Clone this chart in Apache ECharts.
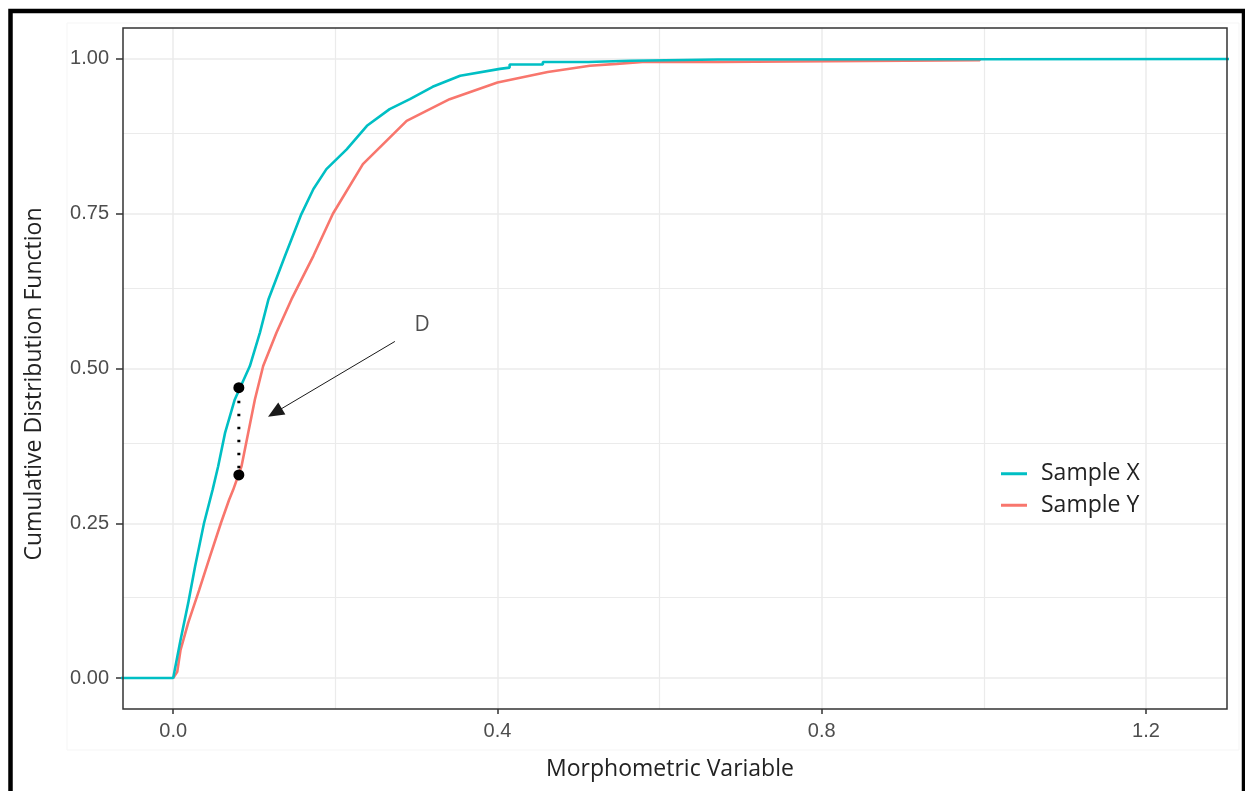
<!DOCTYPE html>
<html><head><meta charset="utf-8">
<script src="https://cdn.jsdelivr.net/npm/echarts@6/dist/echarts.min.js"></script>
<style>html,body{margin:0;padding:0;background:#fff}#c{width:1245px;height:791px}</style>
</head><body><div id="c"></div>
<script>
// ---- data ----
const sampleXx   = [-0.1, 0, 0.009, 0.0185, 0.027, 0.038, 0.0486, 0.0555, 0.064, 0.076, 0.0946, 0.107, 0.1176, 0.138, 0.158, 0.173, 0.189, 0.214, 0.239, 0.267, 0.292, 0.32, 0.354, 0.403, 0.415, 0.415, 0.456, 0.456, 0.512, 0.512, 0.564, 0.564, 0.672, 0.672, 1.4];
const sampleXcdf = [0, 0, 0.061, 0.121, 0.18, 0.25, 0.304, 0.342, 0.396, 0.45, 0.504, 0.558, 0.612, 0.682, 0.749, 0.79, 0.822, 0.854, 0.892, 0.919, 0.935, 0.955, 0.973, 0.984, 0.986, 0.991, 0.991, 0.995, 0.995, 0.997, 0.997, 0.999, 0.999, 1.0, 1.0];
const sampleYx   = [0, 0.005, 0.009, 0.0185, 0.032, 0.0453, 0.0588, 0.069, 0.074, 0.0843, 0.0925, 0.1008, 0.111, 0.1275, 0.146, 0.173, 0.197, 0.234, 0.288, 0.341, 0.40, 0.462, 0.514, 0.547, 0.579, 0.672, 0.672, 0.995, 0.995];
const sampleYcdf = [0, 0.01, 0.045, 0.089, 0.142, 0.196, 0.25, 0.288, 0.304, 0.342, 0.396, 0.45, 0.504, 0.558, 0.612, 0.682, 0.75, 0.83, 0.90, 0.935, 0.962, 0.979, 0.989, 0.992, 0.995, 0.995, 0.998, 0.998, 1.0];
const seriesNames = ['Sample X', 'Sample Y'];
const xDataRange = [0, 1.238];
const yDataRange = [0, 1];
const xTicks = [0, 0.4, 0.8, 1.2];
const xMinorGrid = [0.2, 0.6, 1.0];
const yTicks = [0, 0.25, 0.5, 0.75, 1];
const yMinorGrid = [0.125, 0.375, 0.625, 0.875];
const dMarkX = [0.081, 0.081];
const dMarkY = [0.469, 0.328];
const arrowFrom = [0.2735, 0.5437];
const arrowTo = [0.1255, 0.4288];
const dLabelPos = [0.307, 0.5696];
const dLabelText = 'D';

// ggplot-like 5% expansion
const ex = (r) => { const d = (r[1] - r[0]) * 0.05; return [r[0] - d, r[1] + d]; };
const xLim = ex(xDataRange), yLim = ex(yDataRange);
const zip = (a, b) => a.map((v, i) => [v, b[i]]);

const TITLE_FONT = '"Open Sans", "Noto Sans", sans-serif';
const TICK_FONT = '"Liberation Sans", Arial, sans-serif';
const gridColor = '#EBEBEB';

const chart = echarts.init(document.getElementById('c'), null, {renderer: 'canvas'});
chart.setOption({
  backgroundColor: '#ffffff',
  animation: false,
  graphic: [
    {type: 'rect', shape: {x: 67, y: 23, width: 1172, height: 727}, style: {fill: 'none', stroke: '#F5F5F5', lineWidth: 1}, z: -10, silent: true},
    {type: 'rect', shape: {x: 10.5, y: 11, width: 1233.5, height: 900}, style: {fill: 'none', stroke: '#000', lineWidth: 4.5}, z: 100, silent: true}
  ],
  grid: {left: 123, right: 18, top: 28, bottom: 82, show: true, borderColor: '#333333', borderWidth: 1.5, backgroundColor: 'transparent', z: 10},
  legend: {
    data: seriesNames, orient: 'vertical', left: 996, top: 453,
    icon: 'rect', itemWidth: 26, itemHeight: 3, itemGap: 0,
    textStyle: {fontFamily: TITLE_FONT, fontSize: 23, color: '#222', lineHeight: 31.5, padding: [0, 0, 0, 9]}
  },
  xAxis: {
    type: 'value', min: xLim[0], max: xLim[1],
    name: 'Morphometric Variable', nameLocation: 'middle', nameGap: 49,
    nameTextStyle: {fontFamily: TITLE_FONT, fontSize: 23, color: '#222', padding: [0, 10, 0, 0]},
    axisLine: {show: false, onZero: false},
    axisTick: {show: true, customValues: xTicks, length: 5, lineStyle: {color: '#333', width: 1.5}},
    axisLabel: {customValues: xTicks, formatter: v => v.toFixed(1), fontFamily: TICK_FONT, fontSize: 20, color: '#4D4D4D', margin: 12},
    splitLine: {show: false}
  },
  yAxis: {
    type: 'value', min: yLim[0], max: yLim[1],
    name: 'Cumulative Distribution Function', nameLocation: 'middle', nameGap: 77,
    nameTextStyle: {fontFamily: TITLE_FONT, fontSize: 23, color: '#222', padding: [0, 31, 0, 0]},
    axisLine: {show: false, onZero: false},
    axisTick: {show: true, customValues: yTicks, length: 7, lineStyle: {color: '#333', width: 1.5}},
    axisLabel: {customValues: yTicks, formatter: v => v.toFixed(2), fontFamily: TICK_FONT, fontSize: 20, color: '#4D4D4D', margin: 14},
    splitLine: {show: false}
  },
  series: [
    {
      name: 'gridlines', type: 'line', data: [], z: 1, silent: true,
      markLine: {
        silent: true, z: 1, symbol: ['none', 'none'], label: {show: false}, animation: false,
        lineStyle: {color: gridColor, width: 1.5, type: 'solid'},
        data: [
          ...xTicks.map(v => ({xAxis: v})),
          ...xMinorGrid.map(v => ({xAxis: v, lineStyle: {width: 1.2}})),
          ...yTicks.map(v => ({yAxis: v})),
          ...yMinorGrid.map(v => ({yAxis: v, lineStyle: {width: 1.2}}))
        ]
      }
    },
    {
      name: seriesNames[1], type: 'line', data: zip(sampleYx, sampleYcdf), z: 3,
      showSymbol: false, symbol: 'none', clip: true,
      lineStyle: {color: '#F8766D', width: 2.6}, itemStyle: {color: '#F8766D'}
    },
    {
      name: seriesNames[0], type: 'line', data: zip(sampleXx, sampleXcdf), z: 4,
      showSymbol: false, symbol: 'none', clip: true,
      lineStyle: {color: '#00BFC4', width: 2.6}, itemStyle: {color: '#00BFC4'}
    },
    {
      name: 'D segment', type: 'line', data: zip(dMarkX, dMarkY), z: 6,
      symbol: 'none', lineStyle: {color: '#000', width: 3, type: [2.5, 10.5], opacity: 1}
    },
    {
      name: 'D points', type: 'scatter', data: zip(dMarkX, dMarkY), z: 7,
      symbol: 'circle', symbolSize: 11, itemStyle: {color: '#000', opacity: 1}
    },
    {
      name: 'D arrow', type: 'line', data: [], z: 7,
      markLine: {
        silent: true, z: 7, symbol: ['none', 'triangle'], symbolSize: [14, 16], label: {show: false},
        lineStyle: {color: '#1a1a1a', width: 1, type: 'solid', opacity: 1},
        data: [[{coord: arrowFrom}, {coord: arrowTo}]]
      }
    },
    {
      name: 'D label', type: 'scatter', data: [dLabelPos], z: 7,
      symbolSize: 0,
      label: {show: true, position: 'inside', formatter: dLabelText, fontFamily: TITLE_FONT, fontSize: 21, color: '#222'}
    }
  ]
});
</script></body></html>
